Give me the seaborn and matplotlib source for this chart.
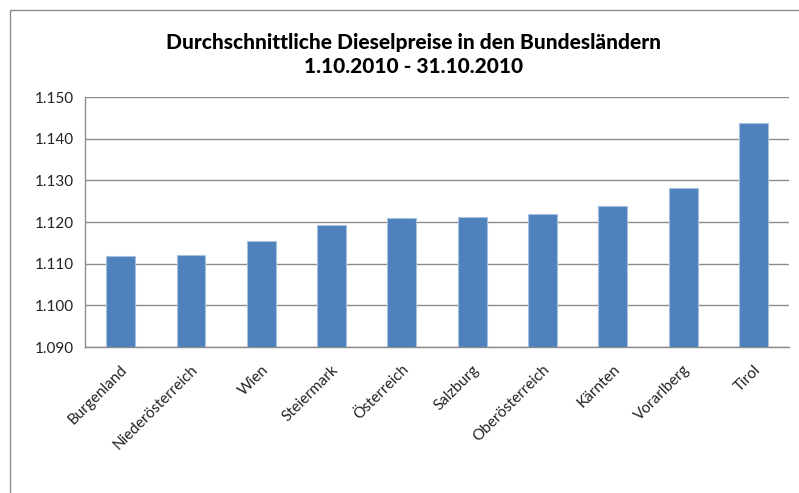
import matplotlib
matplotlib.use("Agg")
import matplotlib.pyplot as plt
import seaborn as sns
import pandas as pd
from matplotlib.patches import Rectangle

# Data
REGIONS = [
    "Burgenland", "Niederösterreich", "Wien", "Steiermark", "Österreich",
    "Salzburg", "Oberösterreich", "Kärnten", "Vorarlberg", "Tirol",
]
PRICES = [1.1118, 1.1122, 1.1154, 1.1194, 1.1209,
          1.1212, 1.1219, 1.1238, 1.1281, 1.1439]
Y_TICKS = [1.090, 1.100, 1.110, 1.120, 1.130, 1.140, 1.150]
TITLE = "Durchschnittliche Dieselpreise in den Bundesländern\n1.10.2010 - 31.10.2010"

sns.set_theme(style="white")
plt.rcParams["font.family"] = ["Lato", "DejaVu Sans"]

df = pd.DataFrame({"region": REGIONS, "price": PRICES})

fig = plt.figure(figsize=(7.99, 4.93), dpi=100)
ax = fig.add_axes([0.1070, 0.296, 0.8800, 0.507])

sns.barplot(data=df, x="region", y="price", color="#4F81BD", width=0.41,
            edgecolor="#A7C0DE", linewidth=0.8, saturation=1, ax=ax, zorder=3)

ax.set_ylim(1.090, 1.150)
ax.set_yticks(Y_TICKS)
ax.set_yticklabels([f"{v:.3f}" for v in Y_TICKS], fontsize=11, color="#222222")
ax.set_xlim(-0.5, len(REGIONS) - 0.5)
ax.set_xticks(range(len(REGIONS)))
ax.set_xticklabels(REGIONS, rotation=45, ha="right", rotation_mode="anchor",
                   fontsize=11, color="#222222")
ax.tick_params(axis="both", length=0, pad=8)
ax.tick_params(axis="x", pad=11)
ax.set_xlabel("")
ax.set_ylabel("")

ax.yaxis.grid(True, color="#8C8C8C", linewidth=1.0, zorder=0)
ax.set_axisbelow(True)
for side in ["top", "right"]:
    ax.spines[side].set_visible(False)
for side in ["left", "bottom"]:
    ax.spines[side].set_color("#8C8C8C")
    ax.spines[side].set_linewidth(1.0)

fig.text(0.518, 0.889, TITLE, ha="center", va="center", fontsize=15,
         fontweight="black", color="#000000", linespacing=1.3)

# outer chart frame
fig.patches.append(Rectangle((0.0125, -0.05), 1.05, 1.03, transform=fig.transFigure,
                             fill=False, edgecolor="#8C8C8C", linewidth=1.0))

fig.savefig("out.png", dpi=100)
